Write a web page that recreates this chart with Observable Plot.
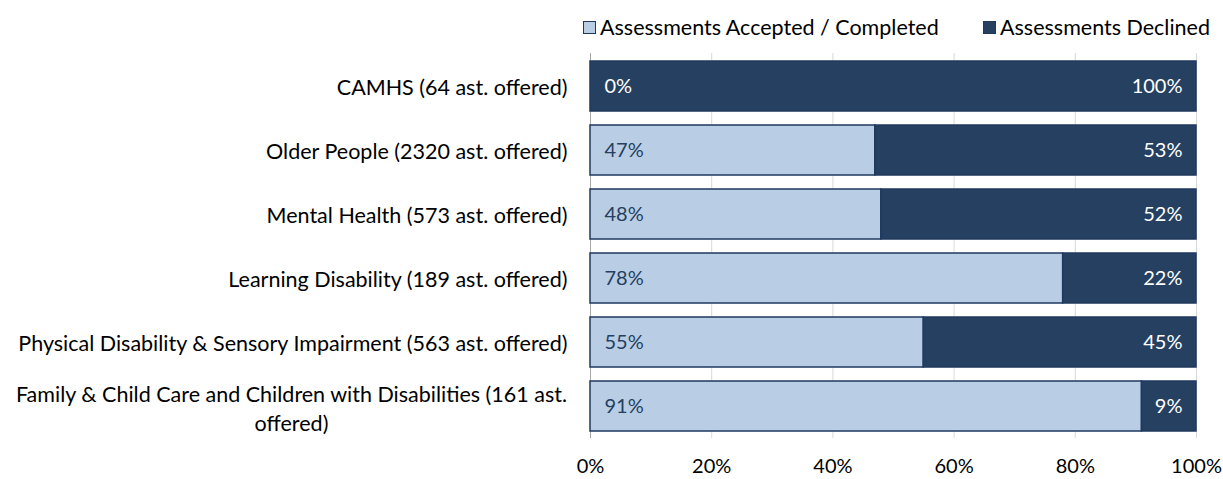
<!DOCTYPE html>
<html><head><meta charset="utf-8">
<script src="https://cdn.jsdelivr.net/npm/d3@7"></script>
<script src="https://cdn.jsdelivr.net/npm/@observablehq/plot@0.6"></script>
<style>
body{margin:0;background:#fff;font-family:Lato,"Open Sans",sans-serif;}
#wrap{position:relative;width:1223px;height:479px;overflow:hidden}
#legend{position:absolute;top:14px;left:583px;font-size:21.5px;color:#000;white-space:nowrap}
#legend span.item{position:absolute;top:0;display:flex;align-items:center}
#legend i{display:inline-block;width:11px;height:11px;border:1px solid #1f3a5f;margin-right:4px}
</style></head>
<body><div id="wrap"><div id="legend"></div><div id="chart"></div></div>
<script>
const categories = [
  "CAMHS (64 ast. offered)",
  "Older People (2320 ast. offered)",
  "Mental Health (573 ast. offered)",
  "Learning Disability (189 ast. offered)",
  "Physical Disability & Sensory Impairment (563 ast. offered)",
  "Family & Child Care and Children with Disabilities (161 ast. offered)"
];
const accepted = [0, 47, 48, 78, 55, 91];
const declined = [100, 53, 52, 22, 45, 9];
const seriesNames = ["Assessments Accepted / Completed", "Assessments Declined"];
const seriesColors = ["#b9cde5", "#254061"];
const xTicks = [0, 20, 40, 60, 80, 100];

const rows = [];
categories.forEach((c, i) => {
  rows.push({cat: c, series: seriesNames[0], x1: 0, x2: accepted[i], v: accepted[i]});
  rows.push({cat: c, series: seriesNames[1], x1: accepted[i], x2: accepted[i] + declined[i], v: declined[i]});
});
const wrapped = categories.length - 1;
const singleCats = categories.filter((c, i) => i !== wrapped);
const wrapCat = [categories[wrapped]];

const chart = Plot.plot({
  width: 1223, height: 479,
  marginLeft: 590, marginRight: 27, marginTop: 53, marginBottom: 41,
  style: {fontFamily: "Lato, 'Open Sans', sans-serif", fontSize: "20px", color: "#000", background: "#fff"},
  x: {domain: [0, 100], ticks: xTicks, tickFormat: d => d + "%"},
  y: {domain: categories, paddingInner: 0.22, paddingOuter: 0.11, axis: null},
  color: {domain: seriesNames, range: seriesColors},
  marks: [
    Plot.ruleX(xTicks.slice(1), {stroke: "#d9d9d9", strokeWidth: 1}),
    Plot.ruleX([0], {stroke: "#a6a6a6", strokeWidth: 1}),
    Plot.barX(rows, {x1: "x1", x2: "x2", y: "cat", fill: "series", stroke: "#1f3a5f", strokeWidth: 1.5}),
    Plot.text(rows.filter(r => r.series === seriesNames[0]), {x: 0, y: "cat", text: d => d.v + "%", textAnchor: "start", dx: 14, fill: d => d.v === 0 ? "#fff" : "#243f60", fontSize: 20}),
    Plot.text(rows.filter(r => r.series === seriesNames[1]), {x: 100, y: "cat", text: d => d.v + "%", textAnchor: "end", dx: -14, fill: "#fff", fontSize: 20}),
    Plot.axisX({ticks: xTicks, tickFormat: d => d + "%", tickSize: 0, tickPadding: 20, fontSize: 20, label: null}),
    Plot.text(singleCats, {x: 0, y: d => d, text: d => d, textAnchor: "end", dx: -23, dy: 2, fill: "#000", fontSize: 21.5}),
    Plot.text(wrapCat, {x: 0, y: d => d, text: d => d.replace(" offered)", "\noffered)"), textAnchor: "middle", dx: -299, dy: 1, lineHeight: 1.33, fill: "#000", fontSize: 21.5})
  ]
});
document.getElementById("chart").appendChild(chart);

const legend = document.getElementById("legend");
const offsets = [0, 400];
seriesNames.forEach((s, i) => {
  const it = document.createElement("span");
  it.className = "item";
  it.style.left = offsets[i] + "px";
  it.innerHTML = `<i style="background:${seriesColors[i]}"></i>${s}`;
  legend.appendChild(it);
});
</script></body></html>
